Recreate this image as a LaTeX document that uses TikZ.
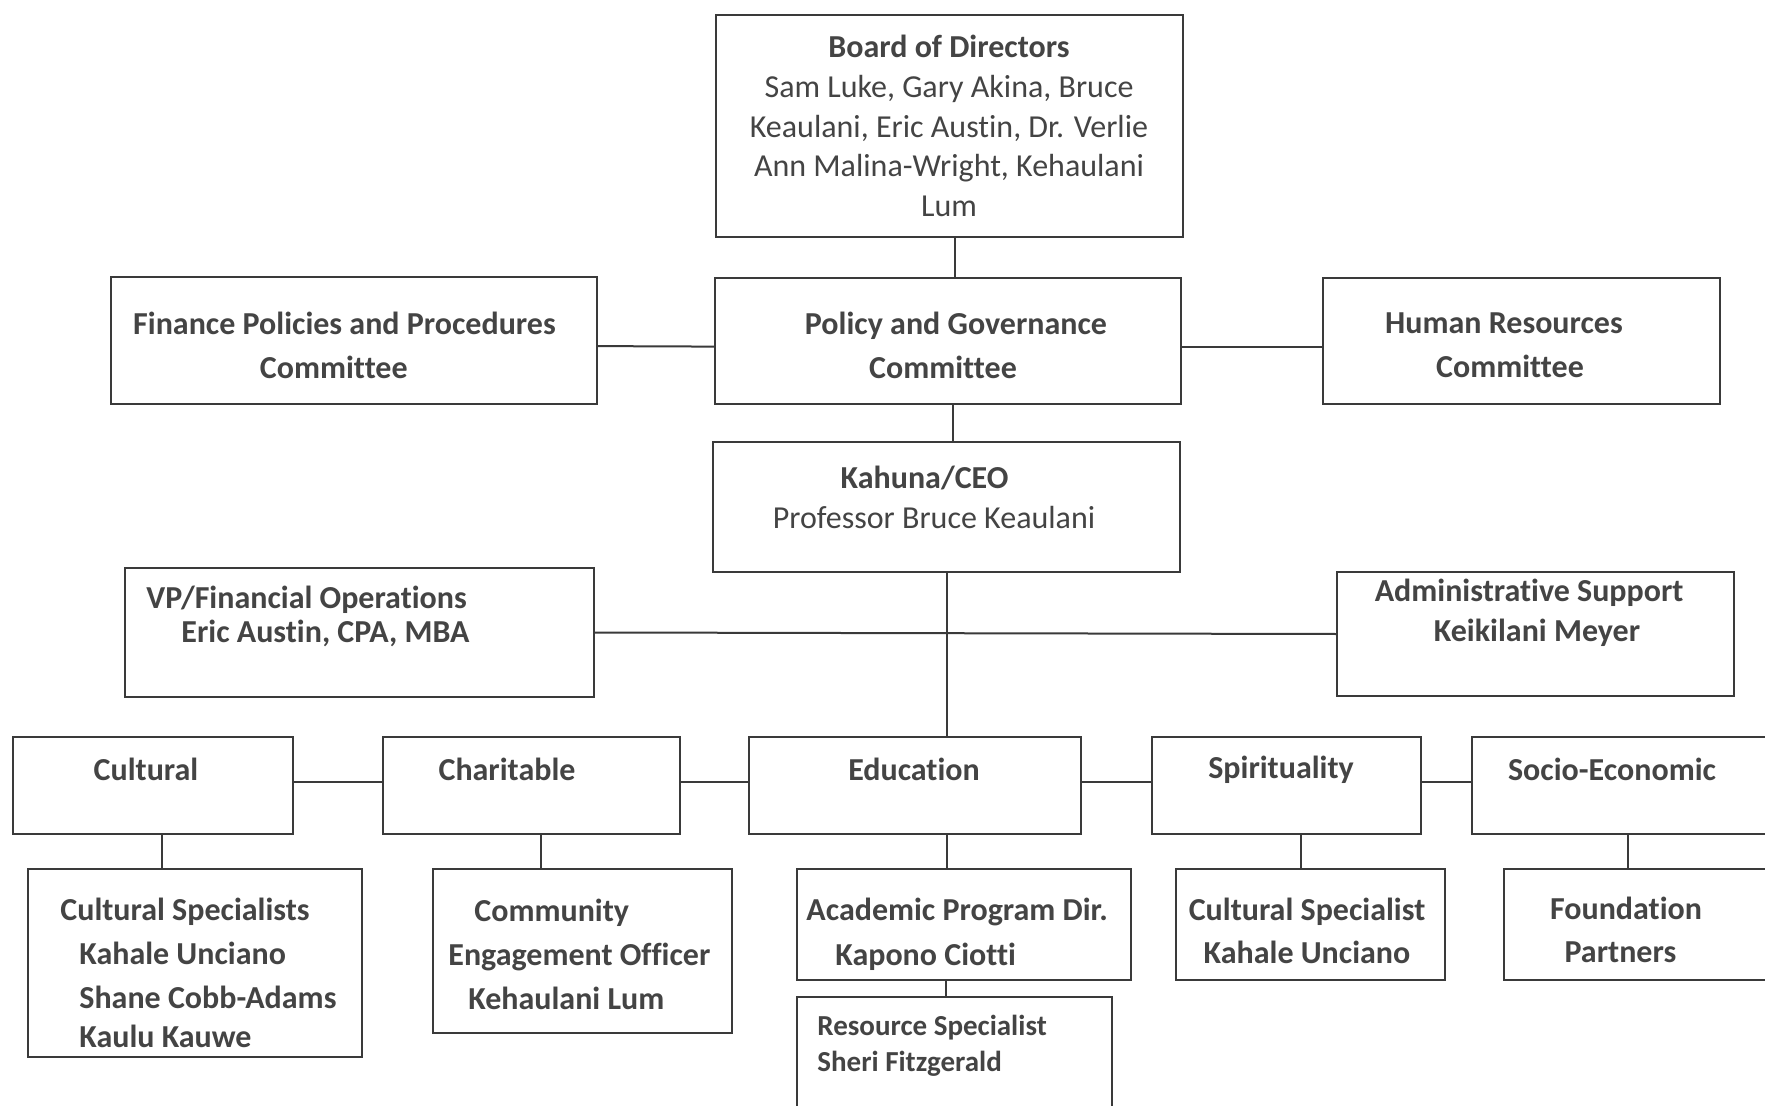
\documentclass[tikz,border=0pt]{standalone}
\usepackage{fontspec}
\setmainfont{Carlito}[Ligatures=NoCommon]
\usetikzlibrary{fit,positioning}
\definecolor{linegray}{HTML}{3A3A3A}
\definecolor{textgray}{HTML}{444444}
\tikzset{
  box/.style={draw=linegray, line width=1pt, inner sep=0pt},
  head/.style={text=textgray, inner sep=0pt, align=center, font=\fontsize{16}{#1}\selectfont\bfseries},
  head/.default=22pt,
  plain/.style={text=textgray, inner sep=0pt, align=center, font=\fontsize{16}{#1}\selectfont},
  plain/.default=20pt,
  link/.style={draw=linegray, line width=1pt},
}
\begin{document}
\begin{tikzpicture}[x=0.5pt,y=-0.5pt]
\useasboundingbox (0,0) rectangle (1765,1106);
\clip (0,0) rectangle (1765,1106);
\fill[white] (0,0) rectangle (1765,1106);

% board and committees
\node[box, fit={(716,15) (1183,237)}] (board) {};
\node[box, fit={(111,277) (597,404)}] (finance) {};
\node[box, fit={(715,278) (1181,404)}] (policy) {};
\node[box, fit={(1323,278) (1720,404)}] (hr) {};
\node[plain=19.9pt] (boardtxt) at (949,126) {\textbf{Board of Directors}\\Sam Luke, Gary Akina, Bruce\\Keaulani, Eric Austin, Dr. Verlie\\Ann Malina-Wright, Kehaulani\\Lum};
\node[head] (financetxt) at (344.5,345) {Finance Policies and Procedures\\Committee\hspace*{10.7pt}};
\node[head] (policytxt) at (956,345) {Policy and Governance\\Committee\hspace*{13pt}};
\node[head] (hrtxt) at (1504,345) {Human Resources\\\hspace*{6pt}Committee};

% ceo level
\node[box, fit={(713,442) (1180,572)}] (ceo) {};
\node[box, fit={(125,568) (594,697)}] (vp) {};
\node[box, fit={(1337,572) (1734,696)}] (admin) {};
\node[plain] (ceotxt) at (934,497) {\textbf{Kahuna/CEO}\hspace*{9.5pt}\\Professor Bruce Keaulani};
\node[head=17pt, align=left, anchor=west] (vptxt) at (146,616) {VP/Financial Operations\\\hspace*{17.5pt}Eric Austin, CPA, MBA};
\node[head=20pt] (admintxt) at (1537,613) {Administrative Support\hspace*{7.9pt}\\Keikilani Meyer};

% departments
\node[box, fit={(13,737) (293,834)}] (cult) {};
\node[box, fit={(383,737) (680,834)}] (char) {};
\node[box, fit={(749,737) (1081,834)}] (edu) {};
\node[box, fit={(1152,737) (1421,834)}] (spir) {};
\node[box, fit={(1472,737) (1784,834)}] (socio) {};
\node[head] (culttxt) at (146,769) {Cultural};
\node[head] (chartxt) at (507,769) {Charitable};
\node[head] (edutxt) at (914,769) {Education};
\node[head] (spirtxt) at (1281,770) {Spirituality};
\node[head] (sociotxt) at (1612,769) {Socio-Economic};

% staff
\node[box, fit={(28,869) (362,1057)}] (cspec) {};
\node[box, fit={(433,869) (732,1033)}] (comm) {};
\node[box, fit={(797,869) (1131,980)}] (acad) {};
\node[box, fit={(1176,869) (1445,980)}] (spec) {};
\node[box, fit={(1504,869) (1784,980)}] (found) {};
\node[box, fit={(797,997) (1112,1140)}] (res) {};
\node[head, align=left, anchor=west] (cspectxt) at (60,973) {Cultural Specialists\\\hspace*{9.5pt}Kahale Unciano\\\hspace*{9.5pt}Shane Cobb-Adams\\[-2.5pt]\hspace*{9.5pt}Kaulu Kauwe};
\node[head, align=left, anchor=west] (commtxt) at (448,954) {\hspace*{13pt}Community\\Engagement Officer\\\hspace*{10pt}Kehaulani Lum};
\node[head=22.5pt, align=left, anchor=west] (acadtxt) at (806,934) {Academic Program Dir.\\\hspace*{14.5pt}Kapono Ciotti};
\node[head=21.5pt] (spectxt) at (1307,931) {Cultural Specialist\\Kahale Unciano};
\node[head=21.5pt] (foundtxt) at (1626,930) {Foundation\\Partners\hspace*{5.6pt}};
\node[head=18pt, align=left, anchor=west, font=\fontsize{14.5}{18}\selectfont\bfseries] (restxt) at (817,1046) {Resource Specialist\\Sheri Fitzgerald};

% connectors
\draw[link] ([xshift=2.8pt]board.south) -- ([xshift=2.8pt]board.south |- policy.north);
\draw[link] ([yshift=-2.8pt]finance.east) -- ([yshift=-2.8pt]policy.west);
\draw[link] ([yshift=-2.8pt]policy.east) -- ([yshift=-2.8pt]hr.west);
\draw[link] ([xshift=2.25pt]policy.south) -- ([xshift=2.25pt]policy.south |- ceo.north);
\draw[link] (ceo.south) -- (ceo.south |- edu.north);
\draw[link] (vp.east) -- (admin.west);
\draw[link] ([yshift=1.7pt]cult.east) -- ([yshift=1.7pt]char.west);
\draw[link] ([yshift=1.7pt]char.east) -- ([yshift=1.7pt]edu.west);
\draw[link] ([yshift=1.7pt]edu.east) -- ([yshift=1.7pt]spir.west);
\draw[link] ([yshift=1.7pt]spir.east) -- ([yshift=1.7pt]socio.west);
\draw[link] ([xshift=4.5pt]cult.south) -- ([xshift=4.5pt]cult.south |- cspec.north);
\draw[link] ([xshift=4.75pt]char.south) -- ([xshift=4.75pt]char.south |- comm.north);
\draw[link] (ceo.south |- edu.south) -- (ceo.south |- acad.north);
\draw[link] ([xshift=7.25pt]spir.south) -- ([xshift=7.25pt]spir.south |- spec.north);
\draw[link] (socio.south) -- (socio.south |- found.north);
\draw[link] ([xshift=-9pt]acad.south) -- ([xshift=-9pt]acad.south |- res.north);
\end{tikzpicture}
\end{document}
